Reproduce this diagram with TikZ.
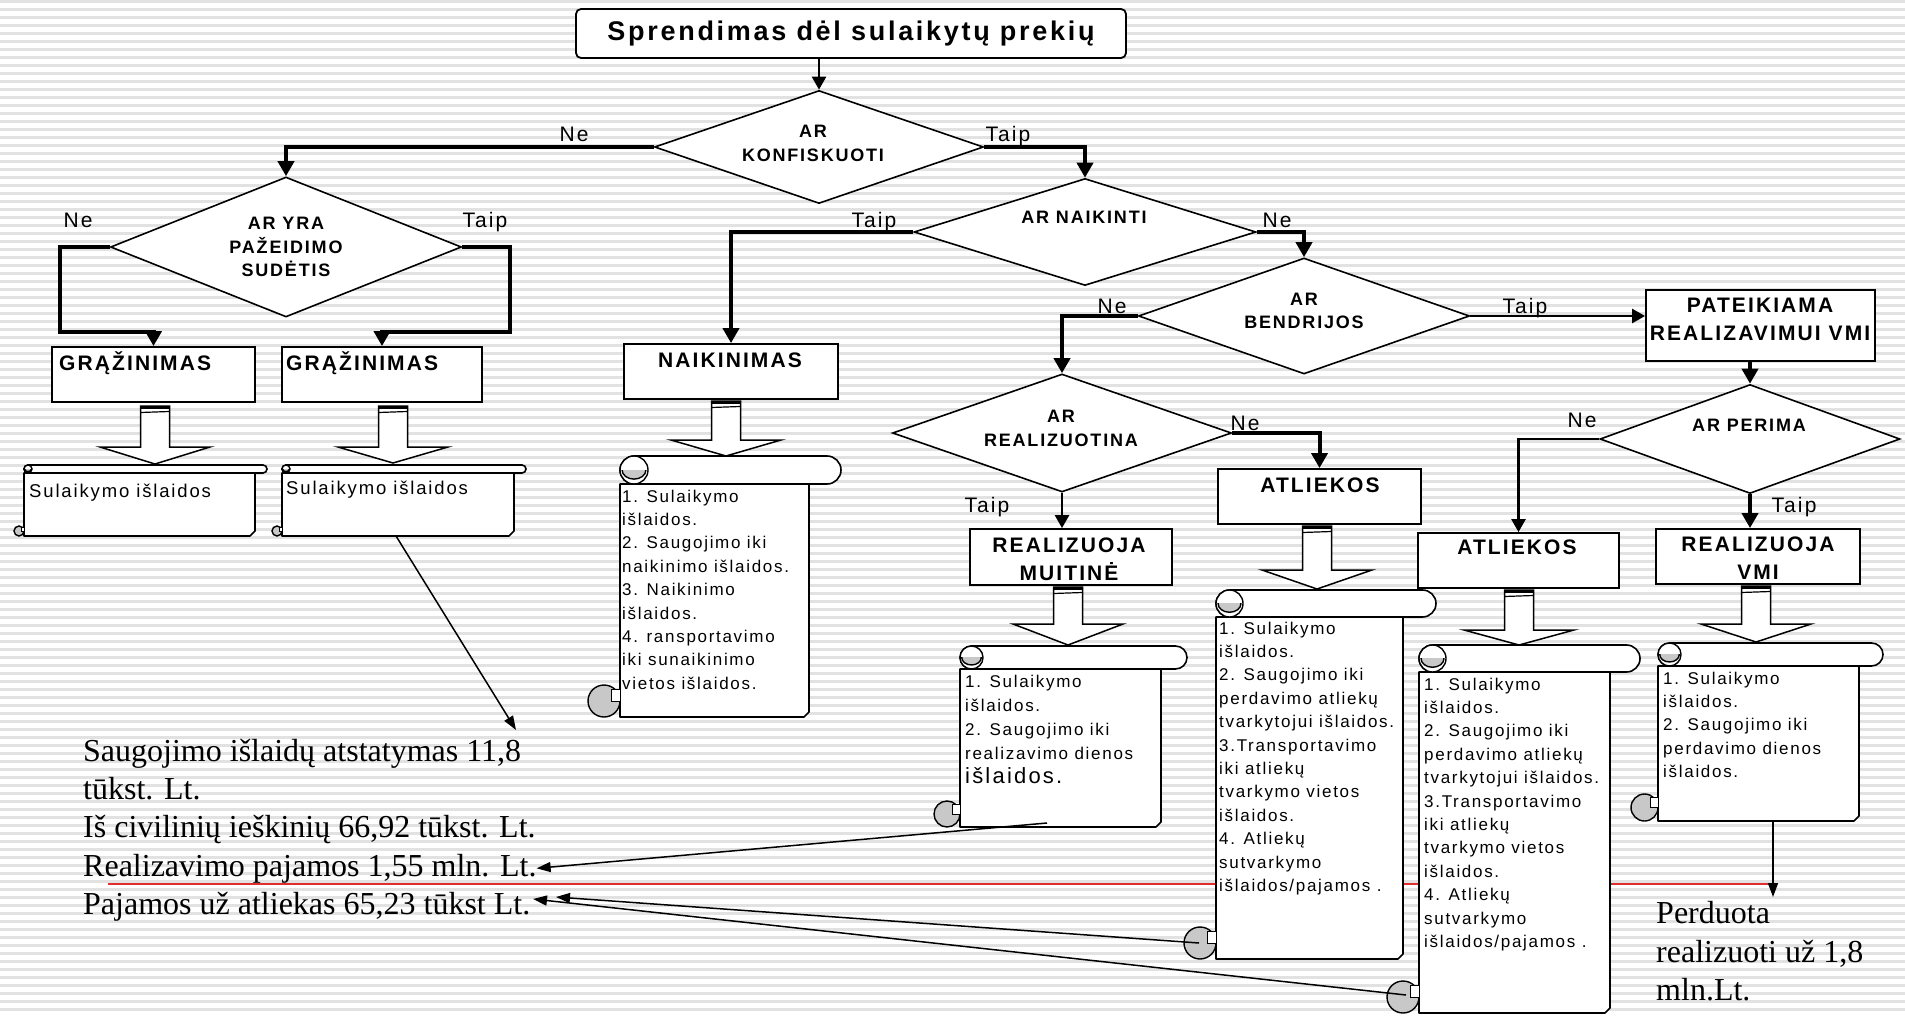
\documentclass[tikz,border=0pt]{standalone}
\usepackage{fontspec}
\setmainfont{Liberation Serif}
\newfontfamily\sansf[LetterSpace=10]{Liberation Sans}
\usetikzlibrary{arrows.meta,shapes.geometric,calc}
\definecolor{curl}{RGB}{200,200,200}
\definecolor{stripe}{RGB}{226,226,226}
\definecolor{redln}{RGB}{225,45,45}

\newcommand\scrollshape[8]{%
 % #1 xl #2 xbr #3 xrr #4 ytop #5 h #6 ybot #7 r #8 hh
 \filldraw[fill=white, line width=1.6pt, line join=round]
   (#1,{#4+#5}) -- (#2,{#4+#5}) -- (#2,{#6-5}) -- ({#2-5},#6) -- (#1,#6) -- cycle;
 \filldraw[fill=curl, line width=1.4pt] ({#1-#7},{#6-#7}) circle[radius=#7];
 \filldraw[fill=white, line width=1pt] ({#1-0.55*#7},{#6-1.75*#7}) rectangle (#1,{#6-#7});
 \filldraw[fill=white, line width=1.6pt, rounded corners=#8] (#1,#4) rectangle (#3,{#4+#5});
 \filldraw[fill=white, line width=1.4pt] ({#1+#8},{#4+#8}) circle[radius=#8];
 \begin{scope}
   \clip ({#1-1},{#4+#8}) rectangle ({#1+2*#8+1},{#4+2*#8+1});
   \filldraw[fill=curl, line width=1.4pt] ({#1+#8},{#4+#8}) ellipse[x radius={0.85*#8}, y radius={0.65*#8}];
 \end{scope}
}
\newcommand\blockarrow[4]{%
 \filldraw[fill=white, line width=1.5pt, line join=miter]
   ({#1-14.5},#2) -- ({#1-14.5},#3) -- ({#1-55},#3) -- (#1,#4) -- ({#1+55},#3) -- ({#1+14.5},#3) -- ({#1+14.5},#2) -- cycle;
 \draw[line width=3pt] ({#1-14.5},{#2+1.5}) -- ({#1+14.5},{#2+1.5});
 \draw[line width=1.2pt] ({#1-14.5},{#2+6.5}) -- ({#1+14.5},{#2+5.5});
}

\begin{document}
\begin{tikzpicture}[x=1pt,y=-1pt,
  dia/.style={draw, fill=white, line width=1.6pt, shape=diamond, inner sep=0pt, aspect=1},
  bx/.style={draw, fill=white, line width=1.8pt, inner sep=0pt, rectangle},
  dtxt/.style={font=\sansf\bfseries\fontsize{18}{23.5}\selectfont, align=center, inner sep=0pt},
  btxt/.style={font=\sansf\bfseries\fontsize{21}{28}\selectfont, align=center, inner sep=0pt},
  lbl/.style={font=\sansf\fontsize{21}{25}\selectfont, inner sep=0pt, anchor=base},
  stxt/.style={font=\sansf\fontsize{17}{23.4}\selectfont, align=left, inner sep=0pt, anchor=north west},
  rtxt/.style={font=\fontsize{32}{38}\selectfont, inner sep=0pt, anchor=base west},
  thk/.style={line width=4pt, -{Triangle[length=15pt,width=16pt]}},
  med/.style={line width=2.5pt, -{Triangle[length=13pt,width=14pt]}},
  thn/.style={line width=1.5pt, -{Triangle[length=14pt,width=10pt]}},
]
\useasboundingbox (0,0) rectangle (1905,1016);
% background
\fill[white] (0,0) rectangle (1905,1016);
\begin{scope}
\clip (0,0) rectangle (1905,1016);
\foreach \y in {0,8,...,1016} \fill[stripe] (0,\y) rectangle (1905,{\y+3});
\end{scope}

% red line
\draw[redln, line width=1.5pt] (108,884) -- (1771,884);

% title
\node[bx, rounded corners=5pt, minimum width=550, minimum height=49,
      font=\sansf\bfseries\fontsize{27}{32}\selectfont] (title) at (851,33.5) {Sprendimas dėl sulaikytų prekių};

% diamonds
\node[dia, minimum width=329, minimum height=113] (konf) at (819,147) {};
\node[dtxt] (konft) at (813,143.5) {AR\\KONFISKUOTI};
\node[dia, minimum width=351, minimum height=140] (yra) at (286,247) {};
\node[dtxt] (yrat) at (286,247) {AR YRA\\PAŽEIDIMO\\SUDĖTIS};
\node[dia, minimum width=342, minimum height=107] (naik) at (1085,232) {};
\node[dtxt] (naikt) at (1084,217) {AR NAIKINTI};
\node[dia, minimum width=331, minimum height=116] (bend) at (1304,316) {};
\node[dtxt] (bendt) at (1304,311) {AR\\BENDRIJOS};
\node[dia, minimum width=339, minimum height=118] (real) at (1062,433) {};
\node[dtxt] (realt) at (1061,428.5) {AR\\REALIZUOTINA};
\node[dia, minimum width=300, minimum height=109] (per) at (1750,439) {};
\node[dtxt] (pert) at (1749,425) {AR PERIMA};

% boxes
\node[bx, minimum width=203, minimum height=55] (g1) at (153.5,374.5) {};
\node[btxt, anchor=base west] (g1t) at (59,370) {GRĄŽINIMAS};
\node[bx, minimum width=200, minimum height=55] (g2) at (382,374.5) {};
\node[btxt, anchor=base west] (g2t) at (286,370) {GRĄŽINIMAS};
\node[bx, minimum width=214, minimum height=55] (nkm) at (731,371.5) {};
\node[btxt] (nkmt) at (730,360) {NAIKINIMAS};
\node[bx, minimum width=229, minimum height=71] (pat) at (1760.5,325.5) {};
\node[btxt] (patt) at (1760,319) {PATEIKIAMA\\REALIZAVIMUI VMI};
\node[bx, minimum width=203, minimum height=55] (a1) at (1319.5,496.5) {};
\node[btxt] (a1t) at (1320,485) {ATLIEKOS};
\node[bx, minimum width=202, minimum height=56] (mu) at (1071,557) {};
\node[btxt] (mut) at (1069,559) {REALIZUOJA\\MUITINĖ};
\node[bx, minimum width=201, minimum height=55] (a2) at (1518.5,560.5) {};
\node[btxt] (a2t) at (1517,547) {ATLIEKOS};
\node[bx, minimum width=204, minimum height=55] (vmi) at (1758,556.5) {};
\node[btxt] (vmit) at (1758,558) {REALIZUOJA\\VMI};

% labels
\node[lbl] (l1) at (574,142) {Ne};
\node[lbl] (l2) at (1008,142) {Taip};
\node[lbl] (l3) at (78,228) {Ne};
\node[lbl] (l4) at (485,228) {Taip};
\node[lbl] (l5) at (874,228) {Taip};
\node[lbl] (l6) at (1277,228) {Ne};
\node[lbl] (l7) at (1112,313) {Ne};
\node[lbl] (l8) at (1525,313) {Taip};
\node[lbl] (l9) at (1245,430) {Ne};
\node[lbl] (l10) at (987,512) {Taip};
\node[lbl] (l11) at (1582,427) {Ne};
\node[lbl] (l12) at (1794,512) {Taip};

% connectors
\coordinate (c1) at (60,332);
\coordinate (c2) at (510,332);
\draw[med] (title.south -| konf.north) -- (konf.north);
\draw[thk] (konf.west) -| (yra.north);
\draw[thk] (konf.east) -| (naik.north);
\draw[thk] (yra.west) -| (c1) -| (g1.north);
\draw[thk] (yra.east) -| (c2) -| (g2.north);
\draw[thk] (naik.west) -| (nkm.north);
\draw[thk] (naik.east) -| (bend.north);
\draw[thk] (bend.west) -| (real.north);
\draw[med] (bend.east) -- (bend.east -| pat.west);
\draw[thk] (real.east) -| (a1.north);
\draw[med] (real.south) -- (real.south |- mu.north);
\draw[thk] (pat.south -| per.north) -- (per.north);
\draw[med] (per.west) -| (a2.north);
\draw[thk] (per.south) -- (per.south |- vmi.north);

% block arrows
\blockarrow{155}{406}{447}{464}
\blockarrow{393}{406}{447}{463}
\blockarrow{726}{401}{440}{456}
\blockarrow{1068}{587}{624}{645}
\blockarrow{1317}{526}{570}{589}
\blockarrow{1519}{590}{630}{645}
\blockarrow{1756}{586}{624}{642}

% scrolls
\scrollshape{24}{255}{267}{465}{8}{536}{5}{4}
\scrollshape{282}{514}{526}{465}{8}{536}{5}{4}
\scrollshape{620}{809}{841}{456}{28}{717}{16}{14}
\scrollshape{960}{1161}{1187}{646}{23}{827}{13}{11.5}
\scrollshape{1216}{1403}{1436}{590}{27}{959}{16}{13.5}
\scrollshape{1419}{1610}{1640}{645}{27}{1013}{16}{13.5}
\scrollshape{1658}{1859}{1883}{643}{23}{821}{13.5}{11.5}

% scroll texts
\node[stxt, font=\sansf\fontsize{18.5}{22}\selectfont, anchor=base west] (s1t) at (29,497) {Sulaikymo išlaidos};
\node[stxt, font=\sansf\fontsize{18.5}{22}\selectfont, anchor=base west] (s2t) at (286,494) {Sulaikymo išlaidos};
\node[stxt] (snt) at (622,489.5) {1. Sulaikymo\\išlaidos.\\2. Saugojimo iki\\naikinimo išlaidos.\\3. Naikinimo\\išlaidos.\\4. ransportavimo\\iki sunaikinimo\\vietos išlaidos.};
\node[stxt, font=\sansf\fontsize{17}{24}\selectfont] (smt) at (965,674.5) {1. Sulaikymo\\išlaidos.\\2. Saugojimo iki\\realizavimo dienos\\{\fontsize{22}{24}\selectfont išlaidos.}};
\node[stxt] (sa1t) at (1219,621.5) {1. Sulaikymo\\išlaidos.\\2. Saugojimo iki\\perdavimo atliekų\\tvarkytojui išlaidos.\\3.Transportavimo\\iki atliekų\\tvarkymo vietos\\išlaidos.\\4. Atliekų\\sutvarkymo\\išlaidos/pajamos .};
\node[stxt] (sa2t) at (1424,677.5) {1. Sulaikymo\\išlaidos.\\2. Saugojimo iki\\perdavimo atliekų\\tvarkytojui išlaidos.\\3.Transportavimo\\iki atliekų\\tvarkymo vietos\\išlaidos.\\4. Atliekų\\sutvarkymo\\išlaidos/pajamos .};
\node[stxt] (svt) at (1663,671.5) {1. Sulaikymo\\išlaidos.\\2. Saugojimo iki\\perdavimo dienos\\išlaidos.};

% result texts
\node[rtxt] (r1) at (83,761) {Saugojimo išlaidų atstatymas 11,8};
\node[rtxt] (r2) at (83,799) {tūkst. Lt.};
\node[rtxt] (r3) at (83,837) {Iš civilinių ieškinių 66,92 tūkst. Lt.};
\node[rtxt] (r4) at (83,876) {Realizavimo pajamos 1,55 mln. Lt.};
\node[rtxt] (r5) at (83,914) {Pajamos už atliekas 65,23 tūkst Lt.};
\node[rtxt] (p1) at (1656,923) {Perduota};
\node[rtxt] (p2) at (1656,962) {realizuoti už 1,8};
\node[rtxt] (p3) at (1656,1000) {mln.Lt.};

% result arrows
\coordinate (s2b) at (396,536);
\coordinate (t1) at (516,730);
\coordinate (smb) at (1047,823);
\coordinate (sa1c) at (1199,943);
\coordinate (sa2c) at (1406,995);
\coordinate (t5a) at (533,899);
\coordinate (t5b) at (556,897);
\coordinate (svb) at (1773,821);
\coordinate (pt) at (1773,897);
\draw[thn] (s2b) -- (t1);
\draw[thn] (smb) -- (r4.east);
\draw[thn] (sa2c) -- (t5a);
\draw[thn] (sa1c) -- (t5b);
\draw[thn] (svb) -- (pt);
\end{tikzpicture}
\end{document}
